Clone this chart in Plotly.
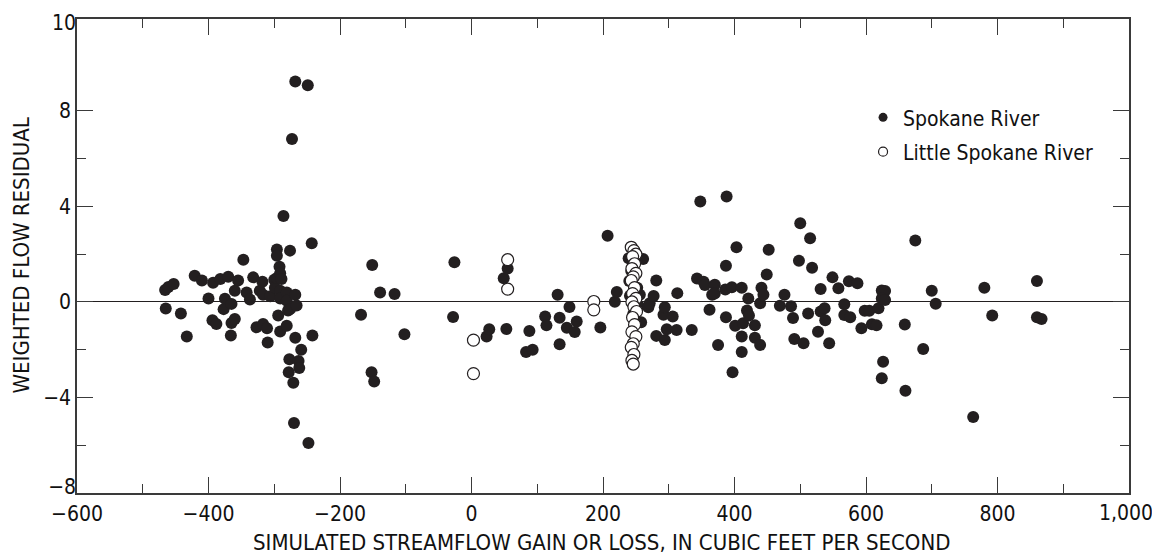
import plotly.graph_objects as go

# ---- Data ----
spokane_x = [
    -466, -461, -453, -465, -442, -433,
    -421, -410, -400, -393, -394, -388, -382, -377, -375, -370, -366, -365, -365,
    -360, -360, -355, -347, -342, -337, -332, -327, -322, -318, -317, -317, -311,
    -310, -306, -300, -299, -296, -296, -296, -294, -292, -291, -291, -291, -291,
    -289, -286, -281, -281, -281, -279, -278, -277, -276, -276, -273, -271, -270,
    -268, -268, -268, -266, -263, -262, -259, -249, -248, -243, -242,
    -168, -151, -152, -148, -139, -117, -102, -26, -28, 23, 27, 49, 55, 53, 83, 88,
    93, 112, 114, 131, 134, 134, 145, 149, 157, 160, 196, 207, 218, 221,
    239, 261, 240, 241, 254, 243, 252, 246, 258, 256,
    269, 271, 277, 281, 281, 292, 294, 294, 297, 306, 312, 313, 335, 343, 348, 353,
    355, 362, 366, 370, 370, 375, 387, 386, 387, 388, 396, 397, 401, 403, 411, 411,
    411, 413, 419, 421, 422, 431, 431, 439, 439, 441, 444, 449, 452, 469, 476, 486,
    489, 491, 498, 500, 505, 512, 515, 518, 527, 531, 531, 537, 538, 544, 549, 558,
    567, 567, 576, 574, 587, 593, 598, 605, 609, 616, 619, 624, 629, 624, 629, 626,
    624, 659, 660, 675, 687, 700, 706, 763, 780, 792, 860, 860, 867,
]
spokane_y = [
    0.50, 0.63, 0.75, -0.27, -0.48, -1.45,
    1.10, 0.90, 0.15, 0.80, -0.77, -0.92, 0.96, -0.30, 0.13, 1.06, -1.40, -0.08, -0.88,
    0.47, -0.71, 0.90, 1.77, 0.40, 0.10, 1.03, -1.06, 0.47, 0.85, 0.30, -0.92, -1.10,
    -1.70, 0.24, 0.93, 0.60, 2.20, 1.00, 1.94, -0.57, 1.48, 1.20, 0.47, 0.15, -1.24,
    0.96, 3.60, 0.40, 0.05, -1.00, -0.36, -2.94, -2.40, 2.15, -0.30, 6.82, -3.38, -5.07,
    9.23, 0.30, -1.50, -0.15, -2.47, -2.77, -2.00, 9.08, -5.91, 2.46, -1.40,
    -0.54, 1.55, -2.94, -3.33, 0.40, 0.33, -1.35, 1.66, -0.63, -1.45, -1.14, 0.99, 1.40, -1.13, -2.10, -1.22,
    -2.00, -0.61, -0.98, 0.30, -0.66, -1.77, -1.08, -0.21, -1.26, -0.82, -1.07, 2.77, 0.01, 0.42,
    1.83, 1.80, 0.88, 0.26, -0.15, 1.30, 0.60, -0.50, -0.85, 0.30,
    -0.22, -0.05, 0.25, 0.90, -1.42, -0.54, -0.22, -1.59, -1.14, -0.61, -1.17, 0.37, -1.17, 0.98, 4.21, 0.85,
    0.71, -0.33, 0.30, 0.72, 0.35, -1.80, 1.52, 0.52, -0.64, 4.42, 0.62, -2.94, -1.00, 2.29, 0.60, -1.45,
    -2.10, -0.89, -0.36, 0.15, -0.57, -0.98, -1.50, -1.80, -0.05, 0.60, 0.30, 1.15, 2.19, -0.16, 0.30, -0.18,
    -0.67, -1.55, 1.73, 3.30, -1.73, -0.48, 2.67, 1.43, -1.25, 0.54, -0.40, -0.26, -0.77, -1.73, 1.03, 0.57,
    -0.10, -0.55, -0.64, 0.87, 0.78, -1.10, -0.37, -0.37, -0.93, -0.98, -0.26, 0.48, 0.46, 0.15, 0.08, -2.50,
    -3.19, -0.94, -3.72, 2.57, -1.97, 0.47, -0.07, -4.82, 0.60, -0.57, 0.88, -0.64, -0.71,
]

little_x = [3, 3, 55, 55, 186, 186,
            243, 247, 250, 245, 248, 244, 250, 246, 243, 248, 245, 250, 244, 247, 251,
            245, 248, 244, 250, 246, 243, 247, 244, 246]
little_y = [-1.60, -3.00, 1.77, 0.54, 0.02, -0.33,
            2.29, 2.15, 2.00, 1.90, 1.60, 1.40, 1.20, 1.05, 0.90, 0.60, 0.35, 0.15, 0.00, -0.20, -0.40,
            -0.65, -0.95, -1.25, -1.45, -1.75, -1.90, -2.20, -2.45, -2.60]

series_names = ["Spokane River", "Little Spokane River"]

x_range = [-600, 1000]
y_range = [-8, 11.85]
x_tick_vals = [-600, -400, -200, 0, 200, 400, 600, 800, 1000]
x_tick_text = ["\u2212600", "\u2212400", "\u2212200", "0", "200", "400", "600", "800", "1,000"]
y_tick_vals = [-8, -4, 0, 4, 8, 11.85]
y_tick_text = ["\u22128", "\u22124", "0", "4", "8", "10"]
y_minor_vals = [-6, -2, 2, 6]

x_title = "SIMULATED STREAMFLOW GAIN OR LOSS, IN CUBIC FEET PER SECOND"
y_title = "WEIGHTED FLOW RESIDUAL"

# ---- Figure ----
FONT = "Liberation Sans Narrow, DejaVu Sans Condensed, Arial Narrow, sans-serif"
INK = "#231f20"
AX = "#3a3a3a"
TXT = "#111111"
TICK_SIZE = 21
TITLE_SIZE = 22

# Edge labels sit slightly inside the frame (as in the reference): they are
# moved from the main axes onto overlay label-only axes with a small shift.
i_x_end = x_tick_vals.index(x_range[1])
i_y_lo = y_tick_vals.index(y_range[0])
i_y_hi = y_tick_vals.index(y_range[1])
x_main_text = [("" if i == i_x_end else t) for i, t in enumerate(x_tick_text)]
y_main_text = [("" if i in (i_y_lo, i_y_hi) else t) for i, t in enumerate(y_tick_text)]

fig = go.Figure()
fig.add_trace(go.Scatter(
    x=spokane_x, y=spokane_y, mode="markers", showlegend=False,
    marker=dict(size=12, color=INK, line=dict(width=0)),
))
fig.add_trace(go.Scatter(
    x=little_x, y=little_y, mode="markers", showlegend=False,
    marker=dict(size=12, color="white", line=dict(width=1.2, color=INK)),
))
# legend entries
fig.add_trace(go.Scatter(
    x=[None], y=[None], mode="markers", name=series_names[0], legendgroup="a",
    marker=dict(size=9, color=INK, line=dict(width=0)),
))
fig.add_trace(go.Scatter(
    x=[None], y=[None], mode="markers", name=series_names[1], legendgroup="b",
    marker=dict(size=9, color="white", line=dict(width=1.2, color=INK)),
))
# invisible traces anchoring the overlay label axes
fig.add_trace(go.Scatter(x=[None], y=[None], xaxis="x2", yaxis="y2", showlegend=False,
                         mode="markers", hoverinfo="skip"))
fig.add_trace(go.Scatter(x=[None], y=[None], xaxis="x2", yaxis="y3", showlegend=False,
                         mode="markers", hoverinfo="skip"))

axis_common = dict(
    showline=True, linecolor=AX, linewidth=1.6, mirror="ticks",
    ticks="inside", tickcolor=AX, tickwidth=1.4, ticklen=16,
    showgrid=False, tickfont=dict(family=FONT, size=TICK_SIZE, color=TXT),
    automargin=False,
)
label_axis = dict(
    tickmode="array", ticks="", showline=False, showgrid=False, zeroline=False,
    automargin=False, ticklabeloverflow="allow",
    tickfont=dict(family=FONT, size=TICK_SIZE, color=TXT),
)

fig.update_layout(
    width=1152, height=556,
    margin=dict(l=77, r=23, t=19, b=63),
    paper_bgcolor="white", plot_bgcolor="white",
    font=dict(family=FONT, size=TICK_SIZE, color=TXT),
    showlegend=True,
    legend=dict(
        x=0.7472, y=0.835, xanchor="left", yanchor="top",
        bgcolor="rgba(0,0,0,0)", font=dict(family=FONT, size=21, color=TXT),
        itemsizing="trace", tracegroupgap=4,
    ),
    xaxis=dict(
        range=x_range, tickmode="array", tickvals=x_tick_vals, ticktext=x_main_text,
        zeroline=False, ticklabeloverflow="allow", ticklabelstandoff=1,
        minor=dict(ticks="inside", dtick=100, tick0=0, ticklen=9, tickwidth=1.4, tickcolor=AX),
        **axis_common,
    ),
    yaxis=dict(
        range=y_range, tickmode="array", tickvals=y_tick_vals, ticktext=y_main_text,
        zeroline=True, zerolinecolor=INK, zerolinewidth=1.2,
        minor=dict(ticks="inside", tickmode="array", tickvals=y_minor_vals, ticklen=9,
                   tickwidth=1.4, tickcolor=AX),
        **axis_common,
    ),
    xaxis2=dict(overlaying="x", range=x_range, side="bottom",
                tickvals=[x_tick_vals[i_x_end]], ticktext=[x_tick_text[i_x_end]],
                ticklabelshift=-3, ticklabelstandoff=5, **label_axis),
    yaxis2=dict(overlaying="y", range=y_range, side="left",
                tickvals=[y_tick_vals[i_y_lo]], ticktext=[y_tick_text[i_y_lo]],
                ticklabelshift=-6, **label_axis),
    yaxis3=dict(overlaying="y", range=y_range, side="left",
                tickvals=[y_tick_vals[i_y_hi]], ticktext=[y_tick_text[i_y_hi]],
                ticklabelshift=4, **label_axis),
    annotations=[
        dict(text=x_title, xref="paper", yref="paper", x=0.4985, y=0, yshift=-49,
             xanchor="center", yanchor="middle", showarrow=False,
             font=dict(family=FONT, size=TITLE_SIZE, color=TXT)),
        dict(text=y_title, xref="paper", yref="paper", x=0, y=0.5, xshift=-56.5,
             xanchor="center", yanchor="middle", textangle=-90, showarrow=False,
             font=dict(family=FONT, size=TITLE_SIZE, color=TXT)),
    ],
)

fig.write_html(
    "out.html",
    config={"displayModeBar": False},
    post_script="document.body.style.margin='0px';"
                "document.documentElement.style.overflow='hidden';",
)
